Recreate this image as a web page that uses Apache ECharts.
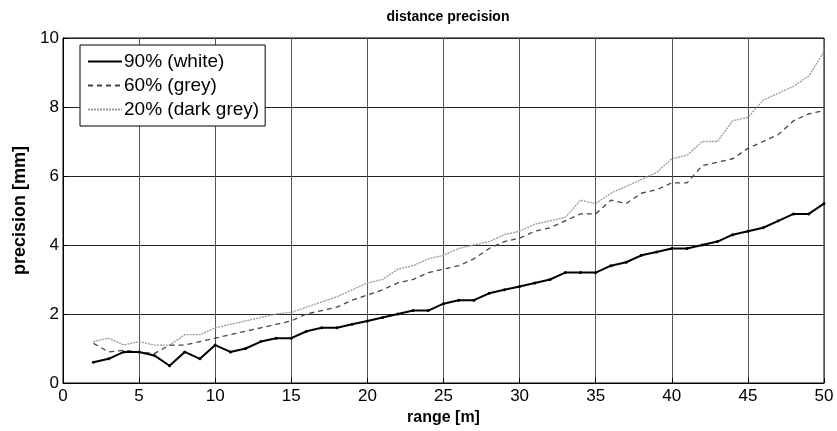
<!DOCTYPE html>
<html>
<head>
<meta charset="utf-8">
<script src="https://cdn.jsdelivr.net/npm/echarts@6/dist/echarts.min.js"></script>
<style>
  html, body { margin: 0; padding: 0; background: #fff; }
  #chart { width: 837px; height: 431px; }
</style>
</head>
<body>
<div id="chart"></div>
<script>
// range in metres
const ranges = [2,3,4,5,6,7,8,9,10,11,12,13,14,15,16,17,18,19,20,21,22,23,24,25,26,
  27,28,29,30,31,32,33,34,35,36,37,38,39,40,41,42,43,44,45,46,47,48,49,50]

// precision [mm] for each target reflectivity
const white90 = [0.6,0.7,0.9,0.9,0.8,0.5,0.9,0.7,1.1,0.9,1.0,1.2,1.3,1.3,1.5,1.6,1.6,1.7,1.8,1.9,
  2.0,2.1,2.1,2.3,2.4,2.4,2.6,2.7,2.8,2.9,3.0,3.2,3.2,3.2,3.4,3.5,3.7,3.8,3.9,3.9,
  4.0,4.1,4.3,4.4,4.5,4.7,4.9,4.9,5.2]
const grey60 = [1.15,0.9,0.95,0.9,0.85,1.1,1.1,1.2,1.3,1.4,1.5,1.6,1.7,1.8,2.0,2.1,2.2,2.4,2.55,2.7,
  2.9,3.0,3.2,3.3,3.4,3.6,3.9,4.1,4.2,4.4,4.5,4.7,4.9,4.9,5.3,5.2,5.5,5.6,5.8,5.8,
  6.3,6.4,6.5,6.8,7.0,7.2,7.6,7.8,7.9]
const darkGrey20 = [1.2,1.3,1.1,1.2,1.1,1.1,1.4,1.4,1.6,1.7,1.8,1.9,2.0,2.05,2.2,2.35,2.5,2.7,2.9,3.0,
  3.3,3.4,3.6,3.7,3.9,4.0,4.1,4.3,4.4,4.6,4.7,4.8,5.3,5.2,5.5,5.7,5.9,6.1,6.5,6.6,
  7.0,7.0,7.6,7.7,8.2,8.4,8.6,8.9,9.6]

const font = 'Liberation Sans, Arial, sans-serif'
const pairs = vals => ranges.map((r, i) => [r, vals[i]])

const chart = echarts.init(document.getElementById('chart'))

chart.setOption({
  animation: false,
  backgroundColor: '#fff',
  title: {
    text: 'distance precision',
    left: 443,
    top: 5,
    textAlign: 'center',
    textStyle: { fontFamily: font, fontSize: 14, fontWeight: 'bold', color: '#000' }
  },
  legend: {
    orient: 'vertical',
    left: 80,
    top: 45,
    padding: [7, 6, 7, 7],
    itemGap: 5,
    itemWidth: 34,
    itemHeight: 12,
    backgroundColor: '#fff',
    borderColor: '#000',
    borderWidth: 1,
    borderRadius: 0,
    itemStyle: { opacity: 0 },
    textStyle: { fontFamily: font, fontSize: 19, lineHeight: 19, color: '#000', padding: [0, 0, 0, -3] },
    data: ['90% (white)', '60% (grey)', '20% (dark grey)']
  },
  grid: {
    left: 63, right: 13, top: 38, bottom: 48,
    show: true, borderColor: '#000', borderWidth: 1
  },
  xAxis: {
    type: 'value',
    min: 0, max: 50, interval: 5,
    name: 'range [m]',
    nameLocation: 'middle',
    nameGap: 23,
    nameTextStyle: { fontFamily: font, fontSize: 16, fontWeight: 'bold', color: '#000' },
    axisLine: { lineStyle: { color: '#000' } },
    axisTick: { inside: true, length: 5, lineStyle: { color: '#000' } },
    axisLabel: { fontFamily: font, fontSize: 17, color: '#000', margin: 5 },
    splitLine: { show: true, lineStyle: { color: '#555', width: 1 } }
  },
  yAxis: {
    type: 'value',
    min: 0, max: 10, interval: 2,
    name: 'precision [mm]',
    nameLocation: 'middle',
    nameGap: 33,
    nameTextStyle: { fontFamily: font, fontSize: 18, fontWeight: 'bold', color: '#000' },
    axisLine: { show: true, lineStyle: { color: '#000' } },
    axisTick: { show: true, inside: true, length: 5, lineStyle: { color: '#000' } },
    axisLabel: { fontFamily: font, fontSize: 17, color: '#000', margin: 4 },
    splitLine: { show: true, lineStyle: { color: '#222', width: 1 } }
  },
  series: [
    {
      name: '90% (white)',
      type: 'line',
      data: pairs(white90),
      symbol: 'circle',
      symbolSize: 3,
      showSymbol: true,
      itemStyle: { color: '#000' },
      lineStyle: { color: '#000', width: 2 },
      z: 5
    },
    {
      name: '60% (grey)',
      type: 'line',
      data: pairs(grey60),
      symbol: 'none',
      itemStyle: { color: '#444' },
      lineStyle: { color: '#444', width: 1.3, type: [5, 4] },
      z: 4
    },
    {
      name: '20% (dark grey)',
      type: 'line',
      data: pairs(darkGrey20),
      symbol: 'none',
      itemStyle: { color: '#999' },
      lineStyle: { color: '#999', width: 1.3, type: [2, 1] },
      z: 3
    }
  ]
})
</script>
</body>
</html>
